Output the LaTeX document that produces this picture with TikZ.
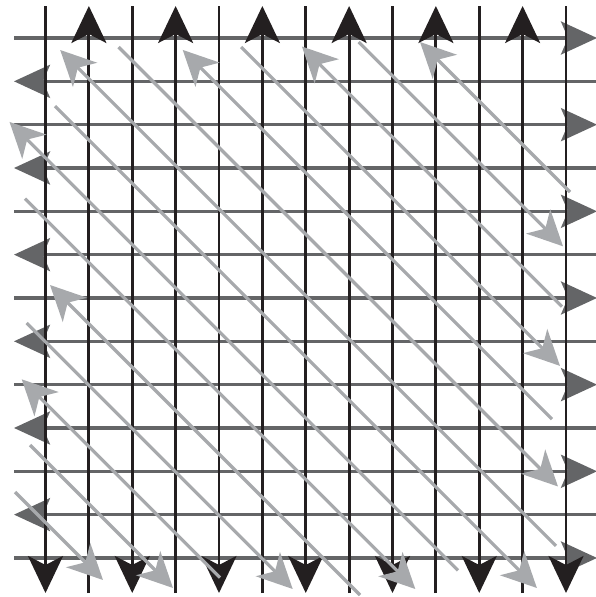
\documentclass[tikz,border=0pt]{standalone}
\usetikzlibrary{arrows.meta}
\definecolor{blk}{HTML}{231F20}
\definecolor{hgray}{HTML}{646567}
\definecolor{dgray}{HTML}{A7A9AC}
\tikzset{
  vline/.style={draw=blk,line width=2.8pt},
  hline/.style={draw=hgray,line width=3.2pt},
  dline/.style={draw=dgray,line width=3.2pt},
  vtip/.tip={Stealth[length=37pt,width=35pt,inset=9pt]},
  htip/.tip={Stealth[length=36pt,width=33pt,inset=7pt]},
  dtip/.tip={Stealth[length=35pt,width=34pt,inset=10pt]},
  headstart/.style={{dtip}-},
  headend/.style={-{dtip}},
}
\begin{document}
\begin{tikzpicture}[x=1pt,y=-1pt]
\useasboundingbox (0,0) rectangle (596,597);
% horizontal grey lines
\foreach \k in {0,...,12}{
  \pgfmathsetmacro\yy{38+43.33*\k}
  \coordinate (hl\k) at (14,\yy);
  \ifodd\k
    \coordinate (hr\k) at (596,\yy);
    \draw[hline,{htip}-] (hl\k) -- (hr\k);
  \else
    \coordinate (hr\k) at (597,\yy);
    \draw[hline,-{htip}] (hl\k) -- (hr\k);
  \fi
}
% vertical black lines
\foreach \k in {0,...,12}{
  \pgfmathsetmacro\xx{45.5+43.375*\k}
  \coordinate (vt\k) at (\xx,6);
  \coordinate (vb\k) at (\xx,593);
  \ifodd\k
    \draw[vline,-{vtip}] (vb\k) -- (vt\k);
  \else
    \draw[vline,-{vtip}] (vt\k) -- (vb\k);
  \fi
}
% diagonal light grey lines
\foreach \i/\ax/\ay/\bx/\by/\st in {
  0/420/42/570/192/headstart,
  1/358.7/42/563/246.3/headend,
  2/301.9/46.5/562/306.6/headstart,
  3/241.1/47/560/365.9/headend,
  4/182.7/49.9/552/419.2/headstart,
  5/118.5/47/558/486.5/headend,
  6/60.2/50/556/545.8/headstart,
  7/55/106.1/536.9/588/headend,
  8/9.5/121.9/458/570.4/headstart,
  9/25/198.7/415.3/589/headend,
  10/50/285/360/595/headstart,
  11/26.7/323/292.7/589/headend,
  12/21.7/379.3/220/577.6/headstart,
  13/30/445/173/588/headend,
  14/15/492/103/580/headend}{
  \coordinate (da\i) at (\ax,\ay);
  \coordinate (db\i) at (\bx,\by);
  \draw[dline,\st] (da\i) -- (db\i);
}
\end{tikzpicture}
\end{document}
